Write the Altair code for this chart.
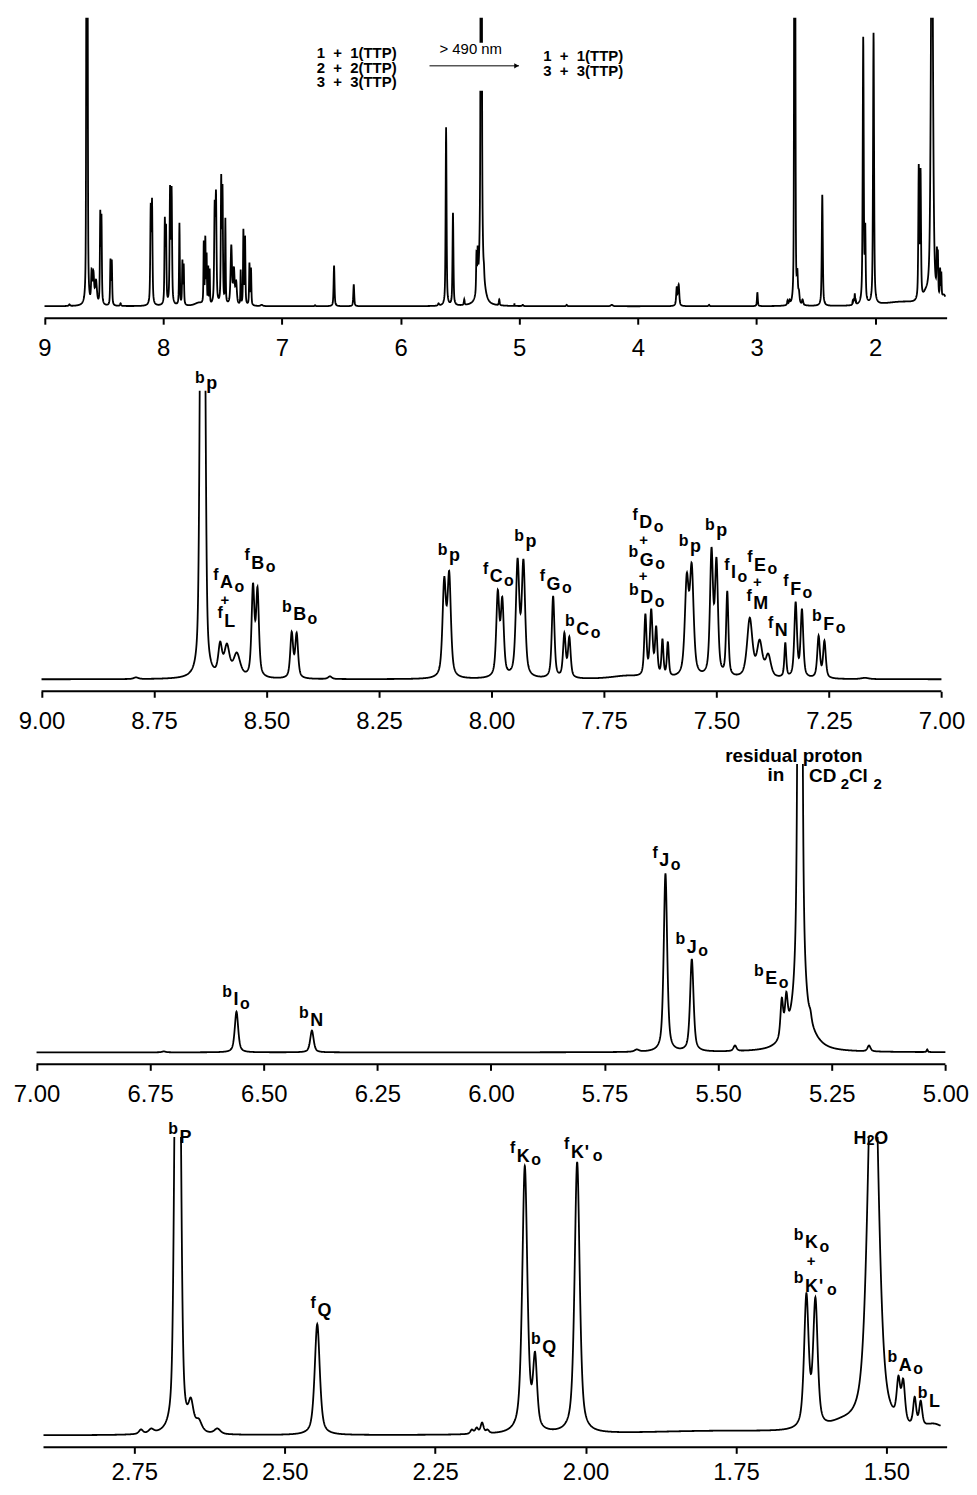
import numpy as np
import pandas as pd
import altair as alt

FONT = "Liberation Sans, Arial, Helvetica, sans-serif"

# ---------------- spectrum: peak list ----------------
# chemical shift (ppm), apparent height above baseline, line width (ppm)
PEAK_PPM = [
    8.790, 8.646, 8.638, 8.603, 8.588, 8.566, 8.530, 8.520, 8.444, 8.433, 8.359,
    8.105, 8.094, 7.986, 7.976, 7.942, 7.929, 7.863, 7.838, 7.827,
    7.658, 7.645, 7.634, 7.620, 7.608, 7.566, 7.555, 7.511, 7.500, 7.476,
    7.426, 7.404, 7.385, 7.347, 7.324, 7.310, 7.273, 7.260, 7.170,
    6.720, 6.560, 6.394, 5.679, 5.616, 5.558, 5.463, 5.420, 5.360, 5.350,
    5.320, 5.297, 5.168, 5.040,
    4.970, 4.600, 4.220, 3.672, 3.656, 3.400, 2.993,
    2.739, 2.722, 2.6815, 2.6745, 2.656, 2.643, 2.612, 2.446,
    2.189, 2.181, 2.172, 2.163, 2.101, 2.084, 2.014,
    1.633, 1.618, 1.522, 1.480, 1.472, 1.453, 1.443,
]
PEAK_HEIGHT = [
    2, 450, 450, 38, 36, 27, 97, 93, 48, 47, 3,
    103, 109, 90, 83, 122, 121, 84, 47, 43,
    66, 71, 54, 41, 38, 107, 117, 133, 123, 89,
    62, 40, 26, 37, 78, 71, 44, 39, 1.5,
    1, 41, 22, 3, 180, 94, 7, 2, 55, 61,
    1500, 43, 7, 3,
    1.5, 1.5, 1.5, 20, 22, 1.5, 14,
    6, 7, 420, 420, 38, 17, 7, 112,
    6, 8, 13, 6, 271, 84, 275,
    143, 139, 450, 60, 57, 39, 35,
]
PEAK_FWHM = [
    0.012, 0.0065, 0.0065, 0.010, 0.014, 0.018, 0.0075, 0.0075, 0.0075, 0.0075, 0.010,
    0.009, 0.009, 0.008, 0.008, 0.009, 0.009, 0.007, 0.007, 0.007,
    0.006, 0.007, 0.006, 0.005, 0.005, 0.010, 0.010, 0.008, 0.008, 0.006,
    0.014, 0.014, 0.014, 0.005, 0.007, 0.007, 0.007, 0.007, 0.020,
    0.010, 0.009, 0.009, 0.012, 0.009, 0.009, 0.008, 0.012, 0.007, 0.007,
    0.007, 0.006, 0.008, 0.003,
    0.010, 0.010, 0.020, 0.012, 0.012, 0.010, 0.008,
    0.008, 0.010, 0.0065, 0.0065, 0.010, 0.012, 0.012, 0.010,
    0.006, 0.006, 0.006, 0.006, 0.010, 0.008, 0.010,
    0.009, 0.009, 0.020, 0.007, 0.007, 0.006, 0.006,
]
# broad baseline humps (ppm, height, width)
BG_PPM = [7.70, 5.32, 1.78, 1.575, 1.42]
BG_HEIGHT = [3, 25, 4, 6, 8]
BG_FWHM = [0.08, 0.06, 0.35, 0.05, 0.04]
ETA = 0.6  # Lorentzian fraction of the line shape


def shape(x, c, w):
    d = (x - c) / w
    return ETA / (1.0 + 4.0 * d * d) + (1.0 - ETA) * np.exp(-4.0 * np.log(2.0) * d * d)


def background(x):
    x = np.asarray(x, float)
    out = np.zeros_like(x)
    for c, a, w in zip(BG_PPM, BG_HEIGHT, BG_FWHM):
        out += a * shape(x, c, w)
    return out


centers = np.array(PEAK_PPM, float)
targets = np.array(PEAK_HEIGHT, float) - background(centers)
widths = np.array(PEAK_FWHM, float)
M = shape(centers[:, None], centers[None, :], widths[None, :])
amp = np.zeros(len(centers))
active = np.ones(len(centers), bool)
for _ in range(30):
    idx = np.where(active)[0]
    sol = np.linalg.solve(M[np.ix_(idx, idx)], targets[idx])
    amp[:] = 0
    amp[idx] = sol
    if (sol >= 0).all():
        break
    active[idx[sol < 0]] = False


def spectrum(x):
    x = np.asarray(x, float)
    return background(x) + (amp[None, :] * shape(x[:, None], centers[None, :], widths[None, :])).sum(axis=1)


# ---------------- panels ----------------
PANEL_DOMAIN = [(1.3941, 9.0729), (6.9874, 9.0126), (4.9962, 7.0015), (1.3991, 2.9137)]
PANEL_LINE = [(1.41, 9.0), (7.0, 9.0), (5.0, 7.0), (1.41, 2.901)]
PANEL_AXIS = [(1.3941, 9.0), (7.0, 9.0), (5.0, 7.0), (1.3991, 2.901)]
PANEL_TICKS = [
    [9, 8, 7, 6, 5, 4, 3, 2],
    [9.0, 8.75, 8.5, 8.25, 8.0, 7.75, 7.5, 7.25, 7.0],
    [7.0, 6.75, 6.5, 6.25, 6.0, 5.75, 5.5, 5.25, 5.0],
    [2.75, 2.5, 2.25, 2.0, 1.75, 1.5],
]
PANEL_FORMAT = [".0f", ".2f", ".2f", ".2f"]
PANEL_PPX = [119.29, 452.3, 456.8, 604.8]   # pixels per ppm
PANEL_STEP = [0.0015, 0.0005, 0.0005, 0.0004]
PANEL_TOP = [290, 290, 290, 300]            # top of each panel's intensity range
PANEL_LABEL_PAD = [12, 12, 12, 7]
W = 916
Y_BOTTOM = -12

# ---------------- peak labels ----------------
LABEL_PANEL = [1] * 25 + [2] * 5 + [3] * 10
LABEL_PPM = [
    8.622, 8.5889, 8.5925, 8.5815, 8.5196, 8.4263, 8.0825, 7.9896, 7.9122, 7.8623,
    7.7973, 7.6573, 7.6617, 7.6551, 7.6633, 7.6551, 7.5468, 7.4886, 7.4621, 7.4031,
    7.4090, 7.4015, 7.3560, 7.3241, 7.2505,
    6.5609, 6.3835, 5.6187, 5.5582, 5.3831,
    2.6652, 2.4342, 2.1035, 2.0137, 2.0605, 1.6245, 1.6252, 1.6245, 1.4686, 1.4201,
]
LABEL_H = [
    292.3, 91.7, 74.7, 52.7, 111, 59.3, 119, 97.7, 132.7, 90,
    45, 151.7, 135.4, 114, 98.7, 76.7, 128.3, 144, 101.7, 109,
    93, 70.7, 43.3, 85, 50,
    47.3, 26.3, 187.3, 100, 68.3,
    294, 120, 275, 279, 83.3, 188.3, 170.4, 144.3, 65, 29,
]
LABEL_PRE = [
    "b", "f", "", "f", "f", "b", "b", "f", "b", "f",
    "b", "f", "", "b", "", "b", "b", "b", "f", "f",
    "", "f", "f", "f", "b",
    "b", "b", "f", "b", "b",
    "b", "f", "f", "f", "b", "b", "", "b", "b", "b",
]
LABEL_MAIN = [
    "p", "A", "+", "L", "B", "B", "p", "C", "p", "G",
    "C", "D", "+", "G", "+", "D", "p", "p", "I", "E",
    "+", "M", "N", "F", "F",
    "I", "N", "J", "J", "E",
    "P", "Q", "K", "K", "Q", "K", "+", "K", "A", "L",
]
LABEL_SUB = [
    "", "o", "", "", "o", "o", "", "o", "", "o",
    "o", "o", "", "o", "", "o", "", "", "o", "o",
    "", "", "", "o", "o",
    "o", "", "o", "o", "o",
    "", "", "o", "'o", "", "o", "", "'o", "o", "",
]

# free text: panel, ppm, height, text, size, weight, align
NB = "\u00a0"
TEXT_PANEL = [0, 0, 0, 0, 0, 0, 2, 2, 2, 2, 2, 2, 3, 3, 3]
TEXT_PPM = [6.7064, 6.7064, 6.7064, 5.6719, 4.7976, 4.7976,
            5.3334, 5.3546, 5.2999, 5.2305, 5.2123, 5.1580,
            1.5441, 1.5326, 1.5204]
TEXT_H = [250, 235, 220.7, 253.3, 246.7, 231.7,
          291.7, 272.8, 271.7, 265, 271.7, 264.3,
          293.3, 291.7, 293]
TEXT_STR = [f"1{NB}{NB}+{NB}{NB}1(TTP)", f"2{NB}{NB}+{NB}{NB}2(TTP)", f"3{NB}{NB}+{NB}{NB}3(TTP)",
            f">{NB}490{NB}nm", f"1{NB}{NB}+{NB}{NB}1(TTP)", f"3{NB}{NB}+{NB}{NB}3(TTP)",
            f"residual{NB}proton", "in", "CD", "2", "Cl", "2",
            "H", "2", "O"]
TEXT_SIZE = [15, 15, 15, 15, 15, 15, 19, 19, 19, 15, 19, 15, 18, 14, 18]
TEXT_WEIGHT = ["bold"] * 3 + ["normal"] + ["bold"] * 11
TEXT_ALIGN = ["left"] * 6 + ["center", "right", "left", "left", "left", "left", "center", "left", "left"]

# arrow and masking box in the top panel
ARROW_PPM = (5.7557, 5.0014)
ARROW_H = 241.7
MASK_PPM = (5.7867, 4.9316)
MASK_H = (216.7, 265.0)

WIDTH_EM = {"A": .722, "B": .722, "C": .722, "D": .722, "E": .667, "F": .611, "G": .778,
            "I": .278, "J": .556, "K": .722, "L": .611, "M": .833, "N": .722, "P": .667,
            "Q": .778, "p": .611, "+": .584}
MAIN_SIZE, SMALL_SIZE, PLUS_SIZE = 18, 16, 15

segs = []
for p, x, h, pre, main, sub in zip(LABEL_PANEL, LABEL_PPM, LABEL_H, LABEL_PRE, LABEL_MAIN, LABEL_SUB):
    ppx = PANEL_PPX[p]
    if main == "+":
        segs.append((p, x, h, "+", PLUS_SIZE, "bold", "center"))
        continue
    hw = WIDTH_EM[main] * MAIN_SIZE / 2
    segs.append((p, x, h, main, MAIN_SIZE, "bold", "center"))
    if pre:
        up = 6 if main.islower() else 8.5
        segs.append((p, x + (hw + 1.5) / ppx, h + up, pre, SMALL_SIZE, "bold", "right"))
    if sub == "o":
        segs.append((p, x - (hw + 1.5) / ppx, h - 3.5, "o", SMALL_SIZE, "bold", "left"))
    elif sub == "'o":
        segs.append((p, x - (hw + 1) / ppx, h, "'", MAIN_SIZE, "bold", "left"))
        segs.append((p, x - (hw + 9) / ppx, h - 3.5, "o", SMALL_SIZE, "bold", "left"))
for row in zip(TEXT_PANEL, TEXT_PPM, TEXT_H, TEXT_STR, TEXT_SIZE, TEXT_WEIGHT, TEXT_ALIGN):
    segs.append(row)
seg_df = pd.DataFrame(segs, columns=["panel", "x", "y", "text", "size", "weight", "align"])

NO_FRAME = alt.ViewBackground(stroke="transparent", strokeWidth=0, strokeOpacity=0)


def panel_chart(i):
    lo, hi = PANEL_DOMAIN[i]
    height = PANEL_TOP[i] - Y_BOTTOM
    xscale = alt.Scale(domain=[lo, hi], reverse=True, nice=False, zero=False)
    yscale = alt.Scale(domain=[Y_BOTTOM, PANEL_TOP[i]], nice=False, zero=False)
    xaxis = alt.Axis(values=PANEL_TICKS[i], format=PANEL_FORMAT[i], title=None, domain=False,
                     grid=False, tickSize=6, tickWidth=2, tickColor="black",
                     labelFont=FONT, labelFontSize=24, labelColor="black",
                     labelPadding=PANEL_LABEL_PAD[i], labelFlush=False, labelOverlap=False)

    a, b = PANEL_LINE[i]
    grid = np.arange(a, b, PANEL_STEP[i])
    extra = centers[(centers > a) & (centers < b)]
    grid = np.unique(np.concatenate([grid, extra, [b]]))
    line_df = pd.DataFrame({"ppm": np.round(grid, 5), "h": np.round(spectrum(grid), 2)})

    layers = [
        alt.Chart(line_df).mark_line(color="black", strokeWidth=1.8, clip=True).encode(
            x=alt.X("ppm:Q", scale=xscale, axis=xaxis),
            y=alt.Y("h:Q", scale=yscale, axis=None),
        )
    ]
    if i == 0:
        mask_df = pd.DataFrame({"x": [MASK_PPM[0]], "x2": [MASK_PPM[1]], "y": [MASK_H[0]], "y2": [MASK_H[1]]})
        layers.append(alt.Chart(mask_df).mark_rect(color="white").encode(
            x=alt.X("x:Q", scale=xscale, axis=xaxis), x2="x2:Q",
            y=alt.Y("y:Q", scale=yscale, axis=None), y2="y2:Q"))
        arr_df = pd.DataFrame({"x": [ARROW_PPM[0]], "x2": [ARROW_PPM[1]], "y": [ARROW_H]})
        layers.append(alt.Chart(arr_df).mark_rule(color="black", strokeWidth=1).encode(
            x=alt.X("x:Q", scale=xscale, axis=xaxis), x2="x2:Q",
            y=alt.Y("y:Q", scale=yscale, axis=None)))
        head_df = pd.DataFrame({"x": [ARROW_PPM[1] + 2.5 / PANEL_PPX[0]], "y": [ARROW_H]})
        layers.append(alt.Chart(head_df).mark_point(shape="triangle-right", filled=True, color="black",
                                                    size=28, opacity=1).encode(
            x=alt.X("x:Q", scale=xscale, axis=xaxis),
            y=alt.Y("y:Q", scale=yscale, axis=None)))

    ax_df = pd.DataFrame({"x": [PANEL_AXIS[i][0]], "x2": [PANEL_AXIS[i][1]]})
    layers.append(alt.Chart(ax_df).mark_rule(color="black", strokeWidth=2).encode(
        x=alt.X("x:Q", scale=xscale, axis=xaxis), x2="x2:Q", y=alt.value(height)))

    sub = seg_df[seg_df.panel == i]
    for (align, weight), g in sub.groupby(["align", "weight"]):
        layers.append(alt.Chart(g.drop(columns=["align", "weight"])).mark_text(
            align=align, baseline="alphabetic", font=FONT, fontWeight=weight, color="black").encode(
            x=alt.X("x:Q", scale=xscale, axis=xaxis),
            y=alt.Y("y:Q", scale=yscale, axis=None),
            text="text:N",
            size=alt.Size("size:Q", scale=None),
        ))
    return alt.layer(*layers).properties(width=W, height=height, view=NO_FRAME)


chart = alt.vconcat(*[panel_chart(i) for i in range(4)], spacing=73, bounds="flush").properties(
    padding={"left": 5, "top": 6, "right": 0, "bottom": -4}
).configure_view(stroke="transparent", strokeWidth=0, strokeOpacity=0).configure(background="white")

chart.save("out.html", embed_options={"renderer": "svg", "actions": False})
